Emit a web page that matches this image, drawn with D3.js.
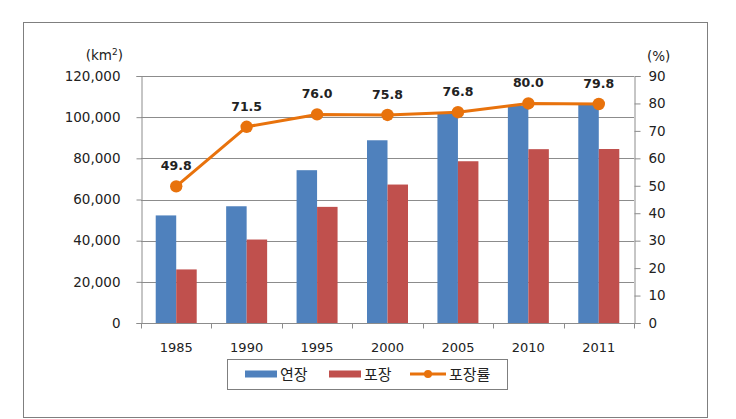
<!DOCTYPE html>
<html><head><meta charset="utf-8">
<script src="https://cdn.jsdelivr.net/npm/d3@7"></script>
<style>
html,body{margin:0;padding:0;background:#fff;}
text{font-family:"DejaVu Sans",Verdana,sans-serif;fill:#222;}
.kr{font-family:"Noto Sans CJK KR",sans-serif;}
</style></head>
<body>
<svg id="chart" width="736" height="419"></svg>
<script>
const years = ["1985","1990","1995","2000","2005","2010","2011"];
const lengthKm = [52264, 56715, 74237, 88775, 102293, 105565, 105931];
const pavedKm = [26027, 40551, 56420, 67266, 78587, 84452, 84533];
const pavedRate = [49.8, 71.5, 76.0, 75.8, 76.8, 80.0, 79.8];
const leftTicks = [0, 20000, 40000, 60000, 80000, 100000, 120000];
const rightTicks = [0, 10, 20, 30, 40, 50, 60, 70, 80, 90];
const seriesNames = ["연장", "포장", "포장률"];
const colors = ["#4F81BD", "#C0504D", "#E8720C"];

const svg = d3.select("#chart");
const L = 141, R = 634, T = 76, B = 323;

svg.append("rect").attr("x", 23.5).attr("y", 22.5).attr("width", 684).attr("height", 395)
  .attr("fill", "#fff").attr("stroke", "#7f7f7f").attr("stroke-width", 1);

const x = d3.scaleBand().domain(years).range([L, R]).paddingInner(0.418).paddingOuter(0.209);
const xs = d3.scaleBand().domain([0, 1]).range([0, x.bandwidth()]);
const y = d3.scaleLinear().domain([0, 120000]).range([B, T]);
const y2 = d3.scaleLinear().domain([0, 90]).range([B, T]);

// gridlines
svg.append("g").selectAll("line").data(leftTicks.slice(1)).join("line")
  .attr("x1", L).attr("x2", R)
  .attr("y1", d => Math.round(y(d)) + 0.5).attr("y2", d => Math.round(y(d)) + 0.5)
  .attr("stroke", "#8c8c8c").attr("stroke-width", 1);

// bars
const series = [lengthKm, pavedKm];
series.forEach((vals, si) => {
  svg.append("g").selectAll("rect").data(vals).join("rect")
    .attr("x", (d, i) => x(years[i]) + xs(si))
    .attr("width", xs.bandwidth())
    .attr("y", d => y(d))
    .attr("height", d => B - y(d))
    .attr("fill", colors[si]);
});

// axes
const fmt = d3.format(",");
const gl = svg.append("g").attr("transform", `translate(${L + 0.5},0)`)
  .call(d3.axisLeft(y).tickValues(leftTicks).tickFormat(fmt).tickSize(5).tickPadding(16));
const gr = svg.append("g").attr("transform", `translate(${R + 0.5},0)`)
  .call(d3.axisRight(y2).tickValues(rightTicks).tickSize(6).tickPadding(8));
[gl, gr].forEach(g => {
  g.selectAll(".domain").attr("stroke", "#8c8c8c");
  g.selectAll(".tick line").attr("stroke", "#8c8c8c");
  g.selectAll("text").attr("font-size", "13.5px").attr("fill", "#222")
    .attr("font-family", "DejaVu Sans, Verdana, sans-serif");
});

// bottom axis: ticks at category boundaries
const gb = svg.append("g").attr("transform", `translate(0,${B + 0.5})`);
gb.append("line").attr("x1", L).attr("x2", R + 1).attr("stroke", "#8c8c8c");
const bounds = years.map(d => x(d) - x.step() * x.paddingInner() / 2).concat([R]);
gb.selectAll("line.t").data(bounds).join("line").attr("class", "t")
  .attr("x1", d => Math.round(d) + 0.5).attr("x2", d => Math.round(d) + 0.5)
  .attr("y1", 0).attr("y2", 5).attr("stroke", "#8c8c8c");
gb.selectAll("text").data(years).join("text")
  .attr("x", d => x(d) + x.bandwidth() / 2).attr("y", 28)
  .attr("text-anchor", "middle").attr("font-size", "13px").text(d => d);

// line
const cx = (i) => x(years[i]) + x.bandwidth() / 2;
const line = d3.line().x((d, i) => cx(i)).y(d => y2(d));
svg.append("path").datum(pavedRate).attr("d", line)
  .attr("fill", "none").attr("stroke", colors[2]).attr("stroke-width", 3).attr("stroke-linejoin", "round");
svg.append("g").selectAll("circle").data(pavedRate).join("circle")
  .attr("cx", (d, i) => cx(i)).attr("cy", d => y2(d)).attr("r", 6.2).attr("fill", colors[2]);
svg.append("g").selectAll("text").data(pavedRate).join("text")
  .attr("x", (d, i) => cx(i)).attr("y", d => y2(d) - 16)
  .attr("text-anchor", "middle").attr("font-size", "12.5px").attr("font-weight", "bold")
  .text(d => d.toFixed(1));

// unit labels
const u = svg.append("text").attr("x", 123).attr("y", 60).attr("text-anchor", "end").attr("font-size", "13.5px");
u.append("tspan").text("(km");
u.append("tspan").attr("font-size", "9px").attr("dy", -5).text("2");
u.append("tspan").attr("dy", 5).text(")");
svg.append("text").attr("x", 647).attr("y", 61).attr("font-size", "13.5px").text("(%)");

// legend
const lg = svg.append("g");
lg.append("rect").attr("x", 227.5).attr("y", 359.5).attr("width", 280).attr("height", 30)
  .attr("fill", "#fff").attr("stroke", "#7f7f7f");
const lgy = 374;
lg.append("rect").attr("x", 245).attr("y", lgy - 3.5).attr("width", 32).attr("height", 7).attr("fill", colors[0]);
lg.append("text").attr("class", "kr").attr("x", 280).attr("y", lgy + 5.5).attr("font-size", "15px").text(seriesNames[0]);
lg.append("rect").attr("x", 329).attr("y", lgy - 3.5).attr("width", 32).attr("height", 7).attr("fill", colors[1]);
lg.append("text").attr("class", "kr").attr("x", 364).attr("y", lgy + 5.5).attr("font-size", "15px").text(seriesNames[1]);
lg.append("line").attr("x1", 410).attr("x2", 446).attr("y1", lgy).attr("y2", lgy)
  .attr("stroke", colors[2]).attr("stroke-width", 3);
lg.append("circle").attr("cx", 428).attr("cy", lgy).attr("r", 4).attr("fill", colors[2]);
lg.append("text").attr("class", "kr").attr("x", 449).attr("y", lgy + 5.5).attr("font-size", "15px").text(seriesNames[2]);
</script>
</body></html>
